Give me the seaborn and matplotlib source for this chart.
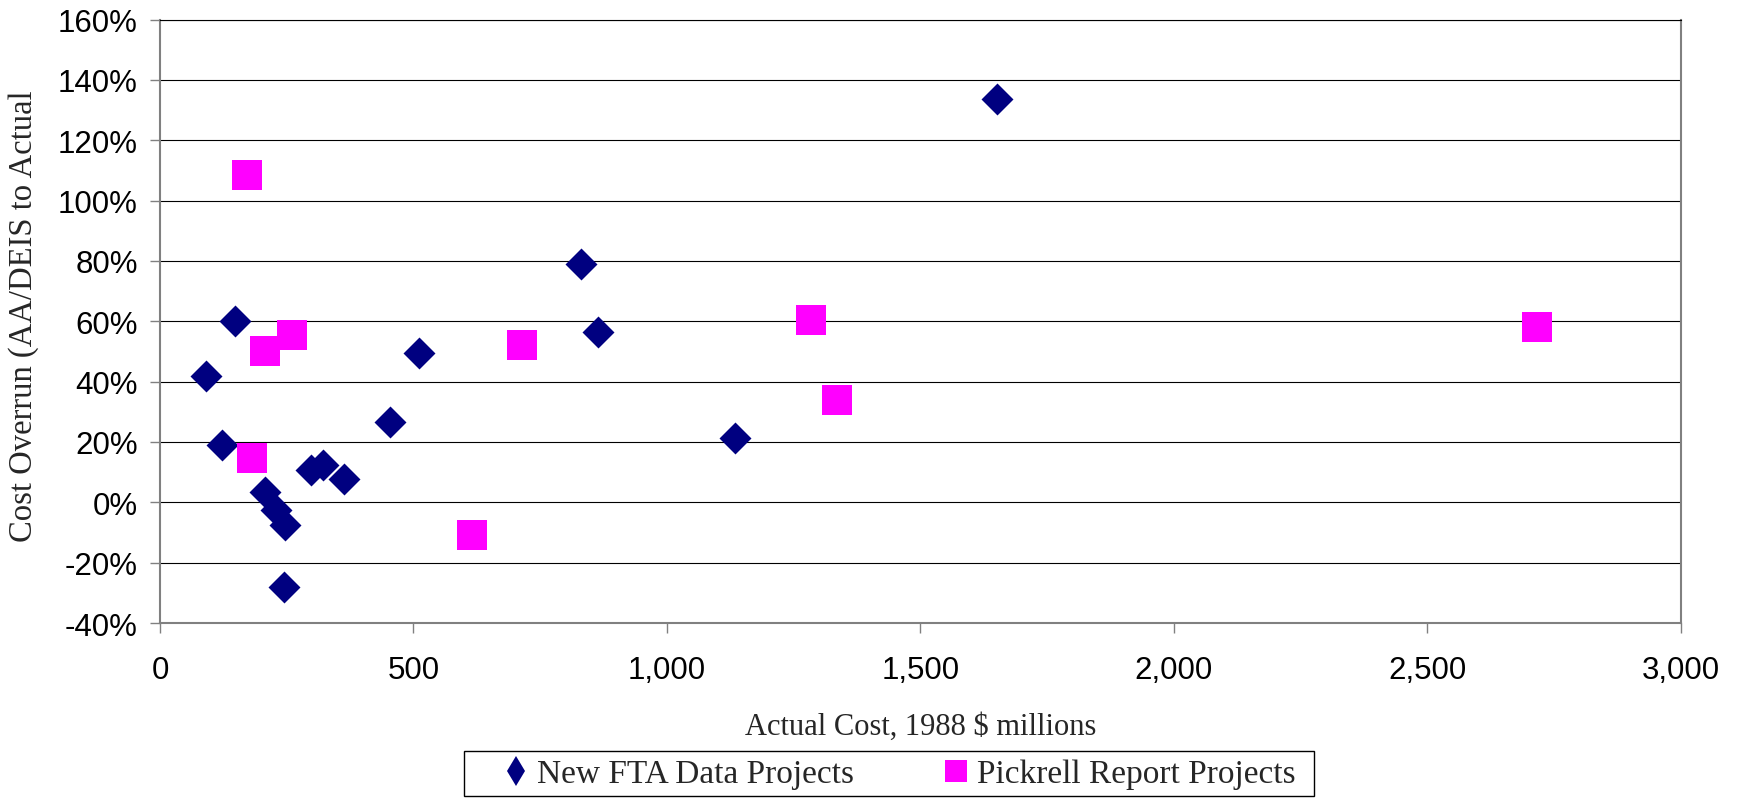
import matplotlib
matplotlib.use("Agg")
import matplotlib.pyplot as plt
from matplotlib.lines import Line2D
from matplotlib.patches import Rectangle
from matplotlib.ticker import FuncFormatter, MultipleLocator
import numpy as np
import pandas as pd
import seaborn as sns

# Actual cost (1988 $ millions) and cost overrun (%) for each project group
fta_cost = [90, 123, 147, 208, 228, 247, 245, 298, 322, 363, 453, 510, 830, 863, 1134, 1650]
fta_overrun = [42, 19, 60, 3.5, -2.5, -7.5, -28, 10.7, 12.5, 7.7, 26.5, 49.4, 79, 56.4, 21.4, 133.5]

pickrell_cost = [172, 208, 261, 182, 615, 714, 1285, 1336, 2715]
pickrell_overrun = [108.5, 50, 55.6, 14.7, -10.7, 52, 60.4, 33.9, 58.2]

series_names = ["New FTA Data Projects", "Pickrell Report Projects"]
x_ticks = [0, 500, 1000, 1500, 2000, 2500, 3000]

df = pd.concat([
    pd.DataFrame({"cost": fta_cost, "overrun": fta_overrun, "group": series_names[0]}),
    pd.DataFrame({"cost": pickrell_cost, "overrun": pickrell_overrun, "group": series_names[1]}),
], ignore_index=True)

sns.set_theme(style="white")
plt.rcParams["font.family"] = ["Liberation Sans", "DejaVu Sans"]

W, H = 1740, 804
fig = plt.figure(figsize=(W / 100, H / 100), dpi=100)
ax = fig.add_axes([160 / W, 1 - 624 / H, 1521 / W, 603.5 / H])

navy = "#000080"
magenta = "#FF00FF"

sns.scatterplot(data=df[df.group == series_names[0]], x="cost", y="overrun",
                marker="D", s=265, color=navy, linewidth=0, ax=ax, legend=False, zorder=3)
sns.scatterplot(data=df[df.group == series_names[1]], x="cost", y="overrun",
                marker="s", s=466, color=magenta, linewidth=0, ax=ax, legend=False, zorder=3)

ax.set_xlim(0, 3000)
ax.set_ylim(-40, 160)
ax.set_xticks(x_ticks)
ax.yaxis.set_major_locator(MultipleLocator(20))
ax.xaxis.set_major_formatter(FuncFormatter(lambda v, p: f"{int(v):,}"))
ax.yaxis.set_major_formatter(FuncFormatter(lambda v, p: f"{int(round(v))}%"))

ax.grid(axis="y", color="black", linewidth=0.8)
ax.grid(axis="x", visible=False)
ax.set_axisbelow(True)

for side in ["left", "bottom", "right"]:
    ax.spines[side].set_color("#808080")
    ax.spines[side].set_linewidth(1.5)
ax.spines["top"].set_color("black")
ax.spines["top"].set_linewidth(0.8)

ax.tick_params(axis="both", which="major", direction="out", length=7, width=1,
               color="#808080", labelsize=22.5, labelcolor="black")
ax.tick_params(axis="y", pad=9)
ax.tick_params(axis="x", pad=16)
ax.tick_params(left=True, bottom=True)

serif = ["Liberation Serif", "DejaVu Serif"]
ax.set_xlabel("Actual Cost, 1988 $ millions", family=serif, fontsize=22, va="center")
ax.xaxis.set_label_coords(0.5, -0.1705)
ax.set_ylabel("Cost Overrun (AA/DEIS to Actual", family=serif, fontsize=23.5, va="center")
ax.yaxis.set_label_coords(-0.0894, 0.51)

# Legend below the plot, with its own rectangular frame
handles = [
    Line2D([], [], linestyle="none", marker="d", markersize=15.5, color=navy, markeredgewidth=0),
    Line2D([], [], linestyle="none", marker="s", markersize=15.5, color=magenta, markeredgewidth=0),
]
fig.legend(handles, series_names, loc="center left", bbox_to_anchor=(502 / W, 1 - 775 / H),
           ncol=2, frameon=False, prop={"family": serif, "size": 24},
           handlelength=0.85, handletextpad=0.2, columnspacing=2.63,
           borderpad=0, borderaxespad=0)
fig.patches.append(Rectangle((464 / W, 1 - 797 / H), 850 / W, 45 / H, transform=fig.transFigure,
                             fill=False, edgecolor="black", linewidth=1.0))

fig.savefig("out.png", dpi=100, facecolor="white")
